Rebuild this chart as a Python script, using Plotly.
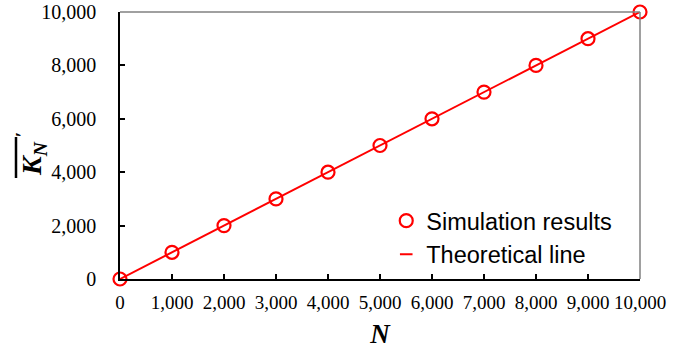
import plotly.graph_objects as go

n_values = [0, 1000, 2000, 3000, 4000, 5000, 6000, 7000, 8000, 9000, 10000]
sim_results = [0, 1000, 2000, 3000, 4000, 5000, 6000, 7000, 8000, 9000, 10000]
theory_x = [0, 10000]
theory_y = [0, 10000]
y_ticks = [0, 2000, 4000, 6000, 8000, 10000]

RED = "#ff0000"
SERIF = "Liberation Serif, Times New Roman, serif"
SANS = "Liberation Sans, Arial, sans-serif"

L, R, T, B = 120, 40, 12, 71
W, H = 680, 350
PW, PH = W - L - R, H - T - B


def px_x(px):
    return (px - L) / PW


def px_y(py):
    return (H - B - py) / PH


fig = go.Figure()
fig.add_trace(go.Scatter(
    x=theory_x, y=theory_y, mode="lines", name="Theoretical line",
    line=dict(color=RED, width=2), showlegend=False, cliponaxis=False,
))
fig.add_trace(go.Scatter(
    x=n_values, y=sim_results, mode="markers", name="Simulation results",
    marker=dict(symbol="circle-open", size=13, color=RED, line=dict(color=RED, width=2.2)),
    cliponaxis=False,
))
# legend entry for the theoretical line (short dash)
fig.add_trace(go.Scatter(
    x=[None], y=[None], mode="markers", name="Theoretical line",
    marker=dict(symbol="line-ew", size=9, color=RED, line=dict(color=RED, width=2)),
))

fig.update_layout(
    width=W, height=H,
    margin=dict(l=L, r=R, t=T, b=B),
    paper_bgcolor="white", plot_bgcolor="white",
    showlegend=True,
    legend=dict(
        x=0.512, y=0.30, xanchor="left", yanchor="top",
        font=dict(family=SANS, size=23.5, color="black"),
        bgcolor="rgba(0,0,0,0)", itemwidth=30, tracegroupgap=0,
    ),
    xaxis=dict(
        range=[0, 10000], tickvals=n_values, tickformat=",d",
        ticks="inside", ticklen=5, tickwidth=1.5, tickcolor="black",
        showline=True, linecolor="black", linewidth=1.5,
        showgrid=False, zeroline=False, automargin=False,
        ticklabelstandoff=5,
        tickfont=dict(family=SERIF, size=19, color="black"),
        title=dict(text="<b><i>N</i></b>", font=dict(family=SERIF, size=27, color="black"), standoff=13),
    ),
    yaxis=dict(
        range=[0, 10000], tickvals=y_ticks, tickformat=",d",
        ticks="inside", ticklen=5, tickwidth=1.5, tickcolor="black",
        showline=True, linecolor="black", linewidth=1.5,
        showgrid=False, zeroline=False, automargin=False,
        ticklabelstandoff=18,
        tickfont=dict(family=SERIF, size=20, color="black"),
    ),
    annotations=[
        dict(
            text="<b><i>K<sub>N</sub></i></b><b><sup> \u2032</sup></b>",
            xref="paper", yref="paper", x=px_x(31), y=px_y(154),
            xanchor="center", yanchor="middle", textangle=-90, showarrow=False,
            font=dict(family=SERIF, size=28, color="black"),
        ),
    ],
    shapes=[
        dict(type="line", xref="paper", yref="paper", x0=0, y0=1, x1=1, y1=1,
             line=dict(color="#808080", width=1.5)),
        dict(type="line", xref="paper", yref="paper", x0=1, y0=0, x1=1, y1=1,
             line=dict(color="#808080", width=1.5)),
        # overline of the y-axis symbol
        dict(type="line", xref="paper", yref="paper", x0=px_x(16), y0=px_y(137),
             x1=px_x(16), y1=px_y(178), line=dict(color="black", width=2.5)),
    ],
)

fig.write_html("out.html")
